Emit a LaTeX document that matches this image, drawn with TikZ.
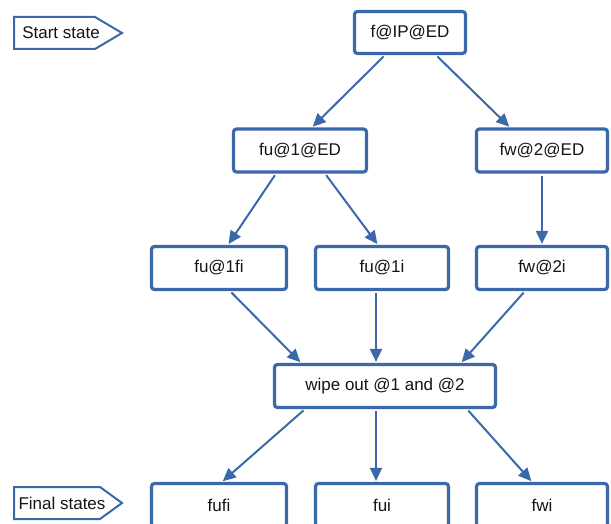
\documentclass[tikz,border=0pt]{standalone}
\usepackage{fontspec}
\setmainfont{Liberation Sans}
\usetikzlibrary{arrows.meta}
\definecolor{boxblue}{RGB}{58,104,170}
\definecolor{txt}{RGB}{20,20,20}
\begin{document}
\begin{tikzpicture}[x=1pt,y=-1pt,
  statebox/.style={draw=boxblue, line width=3.2pt, rounded corners=3pt, fill=white,
    minimum width=133pt, minimum height=43pt, inner sep=0pt, text=txt,
    font=\fontsize{17}{20}\selectfont},
  tagtext/.style={text=txt, inner sep=0pt, font=\fontsize{17}{20}\selectfont},
  tagline/.style={draw=boxblue, line width=2pt, line join=miter},
  conn/.style={draw=boxblue, line width=2pt,
    -{Triangle[length=13pt,width=12pt]}, shorten <=2pt, shorten >=1pt}
]
\useasboundingbox (0,0) rectangle (611,524);
\clip (0,0) rectangle (611,524);

% tags
\draw[tagline] (14,17) -- (95,17) -- (122,33) -- (95,49) -- (14,49) -- cycle;
\node[tagtext] (starttag) at (61,33) {Start state};
\draw[tagline] (14,487) -- (100,487) -- (122,503) -- (100,519) -- (14,519) -- cycle;
\node[tagtext] (finaltag) at (62,503) {Final states};

% boxes
\node[statebox, minimum width=111pt, minimum height=42pt] (top) at (410,32.5) {f@IP@ED};
\node[statebox] (u) at (300,150.5) {fu@1@ED};
\node[statebox, minimum width=131pt] (w) at (542,150.5) {fw@2@ED};
\node[statebox, minimum width=135pt] (ufi) at (219,268) {fu@1fi};
\node[statebox] (ui) at (382,268) {fu@1i};
\node[statebox, minimum width=131pt] (wi) at (542,268) {fw@2i};
\node[statebox, minimum width=221pt] (wipe) at (385,386) {wipe out @1 and @2};
\node[statebox, minimum width=135pt] (fufi) at (219,505) {fufi};
\node[statebox] (fui) at (382,505) {fui};
\node[statebox, minimum width=131pt] (fwi) at (542,505) {fwi};

% connectors
\draw[conn] ([xshift=-25pt]top.south) -- ([xshift=12pt]u.north);
\draw[conn] ([xshift=26pt]top.south) -- ([xshift=-32pt]w.north);
\draw[conn] ([xshift=-24pt]u.south) -- ([xshift=9pt]ufi.north);
\draw[conn] ([xshift=25pt]u.south) -- ([xshift=-4pt]ui.north);
\draw[conn] (w.south) -- (wi.north);
\draw[conn] ([xshift=11pt]ufi.south) -- ([xshift=-84pt]wipe.north);
\draw[conn] ([xshift=-6pt]ui.south) -- ([xshift=-9pt]wipe.north);
\draw[conn] ([xshift=-17pt]wi.south) -- ([xshift=76pt]wipe.north);
\draw[conn] ([xshift=-80pt]wipe.south) -- ([xshift=3pt]fufi.north);
\draw[conn] ([xshift=-9pt]wipe.south) -- ([xshift=-6pt]fui.north);
\draw[conn] ([xshift=82pt]wipe.south) -- ([xshift=-10pt]fwi.north);
\end{tikzpicture}
\end{document}
